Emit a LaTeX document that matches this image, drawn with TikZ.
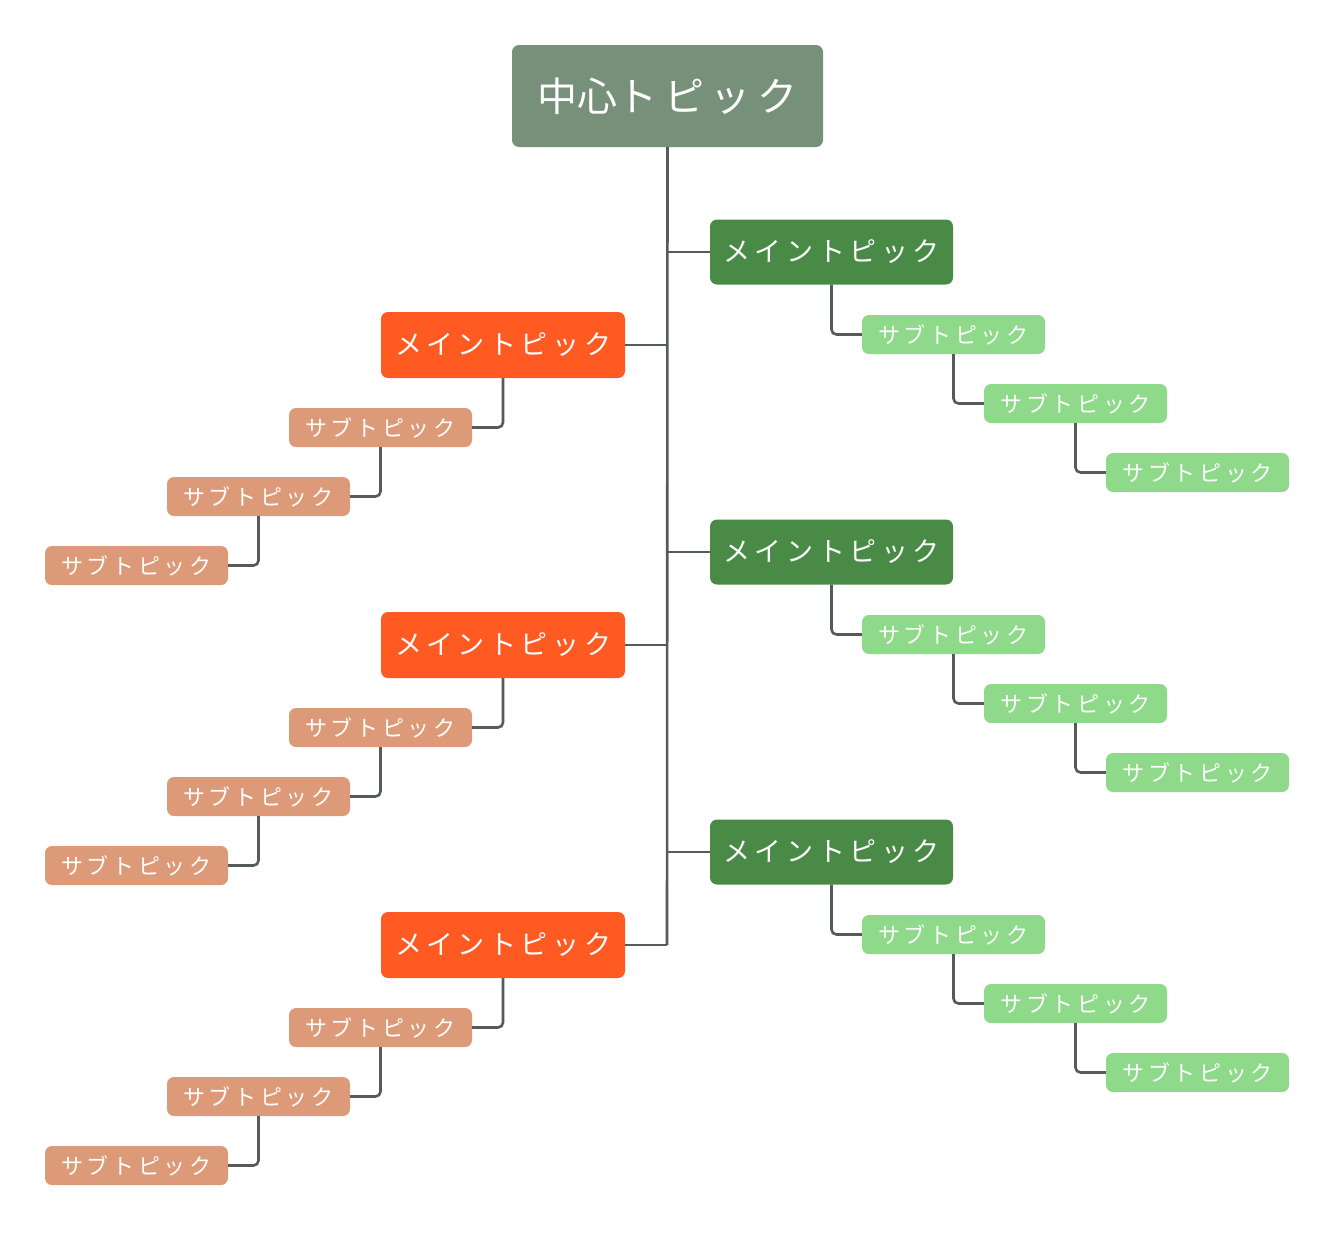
\documentclass[tikz,border=0pt]{standalone}
\usepackage{fontspec}
\newfontfamily\jp{Noto Sans CJK JP}
\definecolor{cen}{HTML}{76907A}
\definecolor{mr}{HTML}{4A8A47}
\definecolor{ml}{HTML}{FF5A22}
\definecolor{sr}{HTML}{8FD98A}
\definecolor{sl}{HTML}{DC9A78}
\definecolor{ln}{HTML}{555B58}
\tikzset{
 box/.style={rounded corners=7pt,text=white,inner sep=0pt,font=\jp},
 cbox/.style={box,fill=cen,minimum width=311pt,minimum height=102pt,font=\jp\fontsize{40}{40}\selectfont},
 mrbox/.style={box,fill=mr,minimum width=243pt,minimum height=65pt,font=\jp\fontsize{27}{27}\selectfont},
 mlbox/.style={box,fill=ml,minimum width=244pt,minimum height=66pt,font=\jp\fontsize{27}{27}\selectfont},
 srbox/.style={box,fill=sr,minimum width=183pt,minimum height=39pt,font=\jp\fontsize{22}{22}\selectfont},
 slbox/.style={box,fill=sl,minimum width=183pt,minimum height=39pt,font=\jp\fontsize{22}{22}\selectfont},
 conn/.style={draw=ln,line width=2.6pt,rounded corners=5pt}
}
\newcommand{\mt}{メ\,イ\,ン\,ト\,ピ\,ッ\,ク}
\newcommand{\st}{サ\,ブ\,ト\,ピ\,ッ\,ク}
\begin{document}
\begin{tikzpicture}[x=1pt,y=-1pt]
\useasboundingbox (0,0) rectangle (1335,1245);
\fill[white] (0,0) rectangle (1335,1245);
\node[cbox] (c) at (667.5,96) {中心ト\,ピ\,ッ\,ク};
\coordinate (tb) at (667,945);
\draw[conn,rounded corners=0pt] (c.south) -- (tb);
\foreach \i/\y in {1/0,2/300,3/600}{
 \node[mrbox] (r\i) at (831.5,252+\y) {\mt};
 \node[srbox] (ra\i) at (953.5,334.5+\y) {\st};
 \node[srbox] (rb\i) at (1075.5,403.5+\y) {\st};
 \node[srbox] (rc\i) at (1197.5,472.5+\y) {\st};
 \draw[conn,rounded corners=0pt] (667,252+\y) -- (r\i.west);
 \draw[conn] (r\i.south) |- (ra\i.west);
 \draw[conn] (ra\i.south) |- (rb\i.west);
 \draw[conn] (rb\i.south) |- (rc\i.west);
 \node[mlbox] (l\i) at (503,345+\y) {\mt};
 \node[slbox] (la\i) at (380.5,427.5+\y) {\st};
 \node[slbox] (lb\i) at (258.5,496.5+\y) {\st};
 \node[slbox] (lc\i) at (136.5,565.5+\y) {\st};
 \draw[conn,rounded corners=0pt] (l\i.east) -- (667,345+\y);
 \draw[conn] (l\i.south) |- (la\i.east);
 \draw[conn] (la\i.south) |- (lb\i.east);
 \draw[conn] (lb\i.south) |- (lc\i.east);
}
\end{tikzpicture}
\end{document}
